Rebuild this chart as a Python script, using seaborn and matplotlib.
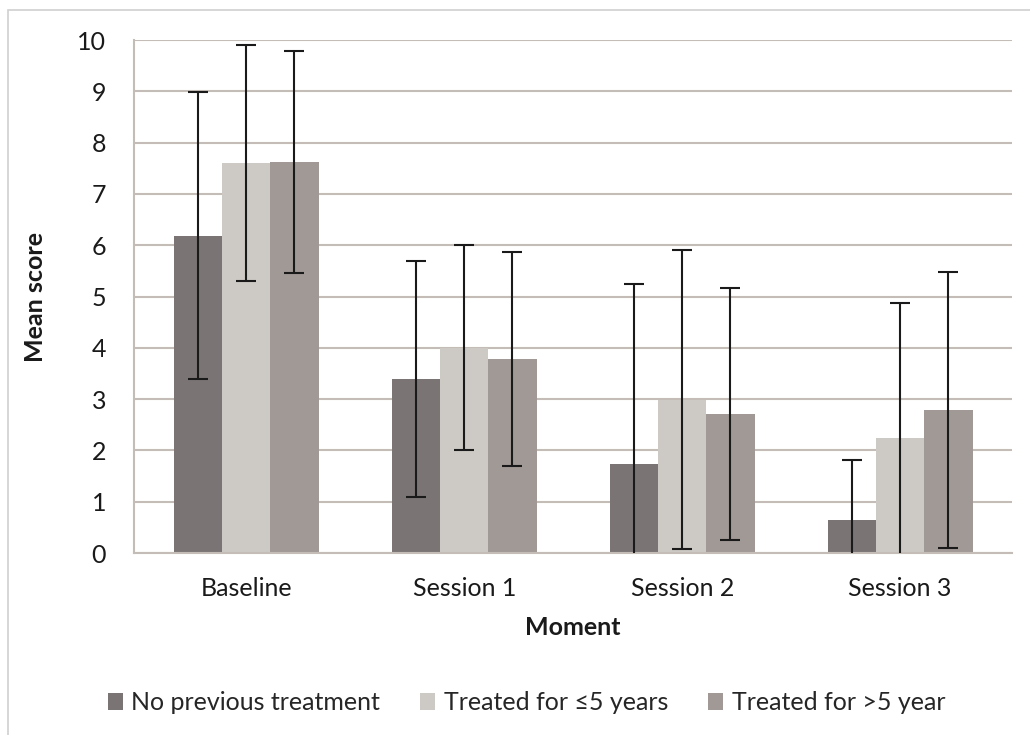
import matplotlib
matplotlib.use("Agg")
import matplotlib.pyplot as plt
import seaborn as sns
import pandas as pd
import numpy as np
from matplotlib.patches import Rectangle

moments = ["Baseline", "Session 1", "Session 2", "Session 3"]
groups = ["No previous treatment", "Treated for \u22645 years", "Treated for >5 year"]
mean_none = [6.19, 3.40, 1.74, 0.65]
mean_le5 = [7.60, 4.00, 2.99, 2.24]
mean_gt5 = [7.62, 3.78, 2.71, 2.78]
err_none = [2.79, 2.30, 3.51, 1.17]
err_le5 = [2.30, 2.00, 2.92, 2.64]
err_gt5 = [2.16, 2.09, 2.46, 2.69]
colors = ["#7b7475", "#cdcac6", "#a09995"]
y_ticks = list(range(0, 11))

rows = []
for g, m, e in zip(groups, [mean_none, mean_le5, mean_gt5], [err_none, err_le5, err_gt5]):
    for mo, mv, ev in zip(moments, m, e):
        rows.append({"Moment": mo, "Group": g, "Mean": mv, "Err": ev})
df = pd.DataFrame(rows)

sns.set_theme(style="white")
plt.rcParams["font.family"] = ["Lato", "DejaVu Sans"]

fig = plt.figure(figsize=(10.3, 7.35), dpi=100)
ax = fig.add_axes([0.130, 0.2475, 0.853, 0.698])

sns.barplot(data=df, x="Moment", y="Mean", hue="Group", order=moments,
            hue_order=groups, palette=colors, width=0.664, saturation=1,
            errorbar=None, ax=ax, legend=True, linewidth=0)

# error bars from bar positions
for patch_list, g in zip(ax.containers, groups):
    sub = df[df["Group"] == g].set_index("Moment").loc[moments]
    xs = [p.get_x() + p.get_width() / 2 for p in patch_list]
    ax.errorbar(xs, sub["Mean"].values, yerr=sub["Err"].values, fmt="none",
                ecolor="#1a1a1a", elinewidth=1.5, capsize=7, capthick=1.5,
                zorder=5)

ax.set_ylim(0, 10)
ax.set_yticks(y_ticks)
ax.yaxis.grid(True, color="#c4bcb7", linewidth=1.5)
ax.set_axisbelow(True)
for s in ["top", "right"]:
    ax.spines[s].set_visible(False)
ax.spines["left"].set_color("#c4bcb7")
ax.spines["bottom"].set_color("#c4bcb7")
ax.spines["left"].set_linewidth(1.5)
ax.spines["bottom"].set_linewidth(1.5)
ax.tick_params(axis="both", length=0, labelsize=18, colors="#1a1a1a")
ax.tick_params(axis="x", pad=17)
ax.tick_params(axis="y", pad=20)
ax.set_xlabel("Moment", fontsize=18, fontweight="bold", labelpad=12, color="#1a1a1a")
ax.set_ylabel("Mean score", fontsize=18, fontweight="bold", labelpad=22, color="#1a1a1a")

leg = ax.legend(loc="upper center", bbox_to_anchor=(0.447, -0.225), ncol=3,
                frameon=False, fontsize=18, handlelength=0.6, handleheight=0.7,
                handletextpad=0.35, columnspacing=1.6)

fig.patches.append(Rectangle((0.008, -0.1), 1.2, 1.087, transform=fig.transFigure,
                             fill=False, edgecolor="#d0d0d0", linewidth=1.2))

fig.savefig("out.png", dpi=100, facecolor="white")
